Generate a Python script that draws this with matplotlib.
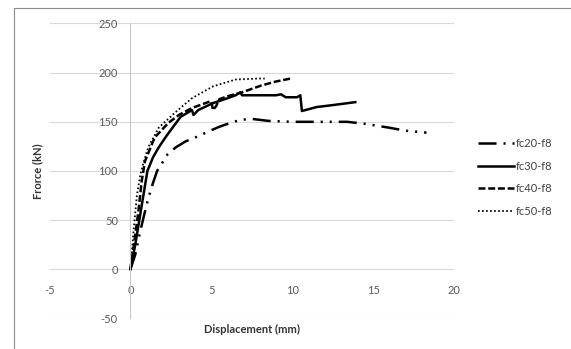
import numpy as np
import matplotlib.pyplot as plt
from matplotlib.patches import Rectangle

# displacement (mm) / force (kN)
fc20_x = [0, 0.3, 0.6, 0.8, 1.1, 1.4, 1.65, 2.3, 2.8, 3.4, 4.0, 4.8, 5.5, 6.2, 6.8, 7.5,
          8.5, 10, 12, 13.4, 14.5, 16, 17, 18.3]
fc20_y = [0, 15, 38, 52, 72, 88, 100, 117, 124, 130, 134, 140, 145, 149, 152, 153,
          151, 150, 150, 150, 148, 144, 141, 139]

fc30_x = [0, 0.3, 0.55, 0.8, 1.05, 1.4, 1.75, 2.2, 2.6, 3.1, 3.6, 3.8, 3.9, 4.2, 5.1,
          6.0, 6.5, 6.8, 6.9, 8, 9, 9.3, 9.6, 10.3, 10.5, 10.6, 11.5, 12.5, 13.9]
fc30_y = [0, 25, 50, 75, 100, 114, 124, 135, 144, 155, 160, 162, 157, 162, 169,
          174, 177, 180, 177, 177, 177, 178, 175, 175, 177, 161, 165, 167, 170]

fc40_x = [0, 0.3, 0.5, 0.7, 0.9, 1.5, 2.35, 3.0, 3.8, 4.8, 5.0, 5.1, 5.3, 5.5, 6.0,
          6.9, 8.1, 9.0, 9.9]
fc40_y = [0, 35, 60, 90, 110, 134, 149, 157, 164, 170, 171, 162, 166, 173, 176,
          180, 187, 191, 194]

fc50_x = [0, 0.2, 0.4, 0.6, 0.8, 1.1, 1.75, 2.8, 3.8, 5.1, 6.5, 7.9, 8.3]
fc50_y = [0, 40, 75, 95, 108, 124, 144, 160, 174, 186, 193, 194, 194]

labels = ['fc20-f8', 'fc30-f8', 'fc40-f8', 'fc50-f8']
x_ticks = [-5, 0, 5, 10, 15, 20]
y_ticks = [-50, 0, 50, 100, 150, 200, 250]

plt.rcParams['font.family'] = ['Lato', 'DejaVu Sans']
plt.rcParams['lines.scale_dashes'] = False
plt.rcParams['axes.unicode_minus'] = False

fig = plt.figure(figsize=(5.71, 3.49), dpi=100)
ax = fig.add_axes([0.0867, 0.0874, 0.7084, 0.8453])

ax.plot(fc20_x, fc20_y, color='black', lw=1.8, linestyle=(0, (13, 5, 1.5, 5, 1.5, 5)), label=labels[0])
ax.plot(fc30_x, fc30_y, color='black', lw=1.8, linestyle='-', label=labels[1])
ax.plot(fc40_x, fc40_y, color='black', lw=1.8, linestyle=(0, (5, 2)), label=labels[2])
ax.plot(fc50_x, fc50_y, color='black', lw=1.3, linestyle=(0, (1.2, 1.7)), label=labels[3])

ax.set_xlim(-5, 20)
ax.set_ylim(-50, 250)
ax.set_xticks(x_ticks)
ax.set_yticks(y_ticks)

ax.yaxis.grid(True, color='#d9d9d9', lw=0.8)
ax.set_axisbelow(True)
for s in ['top', 'right']:
    ax.spines[s].set_visible(False)
ax.spines['left'].set_position(('data', 0))
ax.spines['left'].set_color('#c8c8c8')
ax.spines['left'].set_linewidth(0.8)
ax.spines['bottom'].set_position(('data', 0))
ax.spines['bottom'].set_visible(False)

ax.tick_params(axis='y', length=0, pad=9, labelsize=8, labelcolor='#595959')
ax.tick_params(axis='x', length=0, pad=11, labelsize=8, labelcolor='#595959')

ax.set_xlabel('Displacement (mm)', fontsize=8, fontweight='bold', color='#333333')
ax.xaxis.set_label_coords(0.5, -0.02)
ax.set_ylabel('Frorce (kN)', fontsize=8, fontweight='bold', color='#333333')
ax.yaxis.set_label_coords(-0.015, 0.5)

leg = ax.legend(loc='upper left', bbox_to_anchor=(478 / 571, 1 - 138 / 349),
                bbox_transform=fig.transFigure, frameon=False, fontsize=8,
                handlelength=3.2, handletextpad=0.2, labelspacing=1.05,
                borderpad=0, borderaxespad=0)
for t in leg.get_texts():
    t.set_color('#404040')

fig.add_artist(Rectangle((14 / 571, -0.1), 1.2, 1 - 8 / 349 + 0.1, transform=fig.transFigure,
                         fill=False, ec='#8c8c8c', lw=0.8))

fig.savefig('out.png', dpi=100)
